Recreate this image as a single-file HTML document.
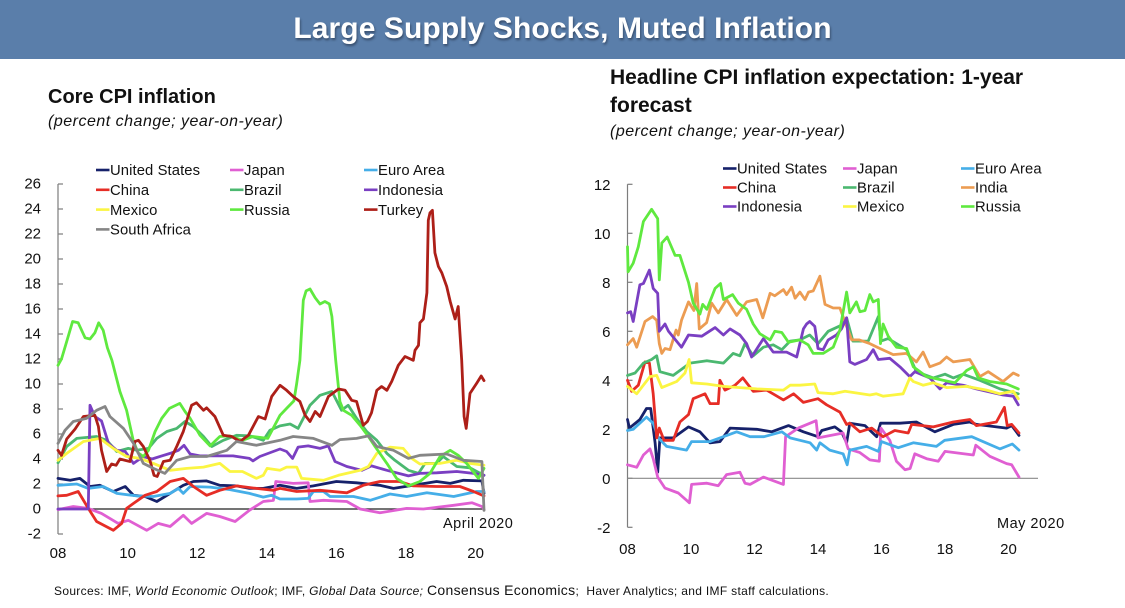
<!DOCTYPE html>
<html lang="en">
<head>
<meta charset="utf-8">
<title>Large Supply Shocks, Muted Inflation</title>
<style>
html,body{margin:0;padding:0;background:#fff;}
#page{position:relative;width:1125px;height:608px;overflow:hidden;background:#fff;font-family:"Liberation Sans",sans-serif;color:#111;}
#banner{position:absolute;left:0;top:0;width:1125px;height:59px;background:#5a7eaa;}
#banner-title{position:absolute;left:0;top:9px;width:1125px;text-align:center;font-weight:bold;font-size:30px;line-height:40px;color:#fff;text-shadow:1px 2px 2px rgba(30,40,60,.55);letter-spacing:.09px;}
.t{position:absolute;white-space:nowrap;}
.bold{font-weight:bold;font-size:20px;line-height:28px;}
.bold.big{font-size:21px;}
.sub{font-style:italic;font-size:16px;line-height:20px;letter-spacing:.5px;}
#sources{position:absolute;left:54px;top:582px;font-size:12px;line-height:16px;white-space:nowrap;color:#111;letter-spacing:.32px;}
svg{position:absolute;left:0;top:0;}
svg text{font-family:"Liberation Sans",sans-serif;fill:#111;}
</style>
</head>
<body>
<div id="page">
  <div id="banner">
    <div id="banner-title">Large Supply Shocks, Muted Inflation</div>
  </div>
  <div class="t bold" style="left:48px;top:83px;">Core CPI inflation</div>
  <div class="t sub" style="left:48px;top:112px;">(percent change; year-on-year)</div>
  <div class="t bold big" style="left:610px;top:64px;">Headline CPI inflation expectation: 1-year</div>
  <div class="t bold big" style="left:610px;top:92px;">forecast</div>
  <div class="t sub" style="left:610px;top:122px;">(percent change; year-on-year)</div>
  <svg id="chart" width="1125" height="608" viewBox="0 0 1125 608"></svg>
  <div id="sources">Sources: IMF, <i>World Economic Outlook</i>; IMF, <i>Global Data Source;</i> <span style="font-size:14px;">Consensus Economics</span>; &nbsp;Haver Analytics; and IMF staff calculations.</div>
</div>
<script>
/* Each series is a list of [year (two-digit), percent] readings from the picture. */
const coreValueTicks = [-2,0,2,4,6,8,10,12,14,16,18,20,22,24,26];
const headlineValueTicks = [-2,0,2,4,6,8,10,12];
const yearTicks = ["08","10","12","14","16","18","20"];

const coreUS = [[8,2.45],[8.35,2.3],[8.63,2.45],[8.92,1.8],[9.2,1.9],[9.59,1.4],[9.93,1.8],[10.17,1.1],[10.5,1],[10.84,.6],[11.22,1.25],[11.6,1.9],[11.89,2.2],[12.27,2.25],[12.65,1.9],[13.13,1.85],[13.5,1.65],[13.9,1.65],[14.38,1.9],[14.86,1.65],[15.34,1.85],[16,2.2],[16.58,2.1],[17.25,1.9],[17.64,1.65],[18.21,1.9],[18.88,2.2],[19.27,2.05],[19.65,2.3],[20.18,2.25],[20.24,1.25]];
const coreJapan = [[8,-.05],[8.44,.2],[8.87,.05],[9.25,-.35],[9.73,-1.15],[10.02,-.9],[10.55,-1.7],[10.88,-1.15],[11.22,-1.4],[11.6,-.5],[11.84,-1.15],[12.27,-.35],[12.65,-.6],[13.09,-1],[13.5,-.1],[13.9,.6],[14.19,.7],[14.26,2.2],[14.76,2.05],[15.19,2.1],[15.24,.6],[15.63,.7],[16.3,.6],[16.68,0],[17.25,-.3],[18.02,.05],[18.5,0],[19.37,.3],[19.9,.5],[20.18,.2],[20.24,-.05]];
const coreEuro = [[8,1.9],[8.54,2],[8.87,1.65],[9.3,1.8],[9.69,1.25],[10.26,1.05],[10.74,1],[11.22,1.25],[11.46,1.65],[11.6,1.25],[11.8,1.8],[12.37,1.75],[12.94,1.55],[13.5,1.25],[13.9,.95],[14.14,1.1],[14.38,.8],[14.86,.8],[15.19,.85],[15.34,1.4],[15.63,1.4],[15.82,1],[16.49,1],[16.97,.7],[17.54,1.2],[18.02,1],[18.6,1.3],[19.37,1],[20.03,1.4],[20.24,1.4]];
const coreChina = [[8,1.05],[8.25,1.1],[8.58,1.4],[8.87,.05],[9.11,-1],[9.59,-1.7],[9.83,-1.15],[9.97,.05],[10.17,.45],[10.5,1.1],[10.84,1.4],[11.22,2.2],[11.6,2.45],[11.89,1.8],[12.27,1.1],[12.65,1.5],[13.13,1.85],[13.7,1.65],[14.19,1.5],[14.38,1.65],[14.86,1.4],[15.53,1.5],[16.3,1.3],[16.77,1.9],[17.25,2.2],[17.82,2.2],[18.21,1.85],[18.88,1.8],[19.55,1.8],[19.94,1.4],[20.24,1.05]];
const coreBrazil = [[8,3.7],[8.25,5],[8.54,5.65],[9.11,5.8],[9.4,5.5],[9.69,4.6],[10.02,4.85],[10.26,4.7],[10.6,4.85],[10.84,5.65],[11.13,6.2],[11.41,6.45],[11.65,7],[11.89,6.6],[12.18,5.8],[12.42,5],[12.75,5.5],[13.13,5.9],[13.52,5.85],[13.9,5.5],[14.09,6.3],[14.38,6.65],[14.67,6.8],[14.9,6.45],[15.05,7.25],[15.24,8.3],[15.53,9.1],[15.87,9.4],[16.15,7.9],[16.34,8.3],[16.58,7.25],[16.87,6.2],[17.16,5.5],[17.45,4.45],[17.68,3.9],[18.07,3.1],[18.36,2.85],[18.55,3.65],[18.88,3.65],[19.07,4.2],[19.46,3.4],[19.84,3.3],[20.24,2.7]];
const coreIndonesia = [[8,0],[8.87,0],[8.92,8.3],[9.06,7.4],[9.25,7.05],[9.45,5.25],[9.69,4.7],[9.93,4.6],[10.17,3.65],[10.45,4.2],[10.7,4],[10.98,4.25],[11.22,4.45],[11.46,4.7],[11.62,5.1],[11.8,4.4],[12.08,4.25],[12.65,4.25],[13.03,4.25],[13.5,4.05],[13.6,3.85],[13.8,4.2],[14.38,4.8],[14.57,4.6],[14.74,4.05],[14.9,4.95],[15.19,5.05],[15.53,4.85],[15.77,5.05],[15.96,3.8],[16.3,3.4],[16.73,3.1],[17.01,3.45],[17.45,3.1],[18.07,2.65],[18.4,2.85],[18.88,2.9],[19.46,3],[19.94,2.85],[20.24,2.7]];
const coreMexico = [[8,3.9],[8.25,4.45],[8.73,5.4],[9.2,5.65],[9.59,4.85],[9.97,4.2],[10.36,4.05],[10.74,3.65],[11.22,3.1],[11.7,3.25],[12.18,3.35],[12.65,3.65],[12.94,3],[13.3,3],[13.7,2.45],[13.9,2.7],[14.01,3.25],[14.38,3.1],[14.57,3.35],[14.86,3.35],[15,2.45],[15.63,2.3],[16.06,2.7],[16.68,3.1],[16.92,3.4],[17.16,4.45],[17.54,4.95],[17.92,4.85],[18.16,4.05],[18.4,3.6],[18.98,3.65],[19.46,3.9],[19.84,3.65],[20.24,3.5]];
const coreRussia = [[8,11.5],[8.1,12],[8.25,13.4],[8.42,15],[8.58,14.9],[8.78,13.7],[8.92,13.6],[9.06,14.1],[9.17,14.9],[9.3,14.3],[9.42,12.9],[9.55,11.9],[9.78,9.4],[9.97,7.9],[10.16,5.5],[10.3,4.5],[10.45,4.2],[10.6,4.7],[10.79,6.2],[10.98,7.25],[11.2,8.05],[11.5,8.45],[11.65,7.8],[11.8,7.25],[12.08,5.9],[12.37,5.05],[12.65,5.8],[12.94,5.85],[13.3,5.5],[13.6,5.8],[14.03,5.65],[14.38,7.5],[14.57,8.05],[14.78,8.65],[14.86,10.05],[14.95,11.9],[15.05,16.7],[15.13,17.45],[15.24,17.6],[15.39,16.9],[15.53,16.4],[15.67,16.6],[15.8,16.4],[15.87,15.4],[15.98,11.9],[16.1,8.6],[16.2,7.9],[16.44,7.5],[16.68,6.7],[16.92,5.8],[17.11,5],[17.45,3.65],[17.73,2.45],[18.07,1.85],[18.4,2.2],[18.69,2.85],[18.98,4.2],[19.27,4.7],[19.5,4.3],[19.74,3.65],[20.08,2.45],[20.24,3.25]];
const coreTurkey = [[8,4.7],[8.1,4.3],[8.25,5.6],[8.49,6.4],[8.73,7.4],[9.06,7.5],[9.16,6.6],[9.25,4.7],[9.4,3],[9.54,3.6],[9.67,3.5],[9.78,4],[10.07,3.8],[10.21,5.4],[10.31,5.5],[10.45,5],[10.64,3.9],[10.76,2.7],[10.85,2.6],[11.03,3.8],[11.22,3.9],[11.41,5],[11.6,6.2],[11.84,8.3],[11.98,8.5],[12.18,7.9],[12.27,8.1],[12.51,7.4],[12.75,5.9],[12.99,5.8],[13.23,5.4],[13.47,5.9],[13.76,7.4],[13.95,7.2],[14.14,9],[14.38,9.9],[14.57,9.5],[14.76,9],[14.95,8.6],[15.1,7.5],[15.24,7],[15.39,7.8],[15.53,7.4],[15.77,9],[16.06,9.6],[16.25,9.5],[16.44,8.7],[16.58,8.6],[16.77,6.7],[16.89,7],[17.01,7.7],[17.16,9.5],[17.3,9.8],[17.45,9.5],[17.59,10.2],[17.78,11.5],[17.97,12.2],[18.21,11.9],[18.26,12.7],[18.36,13.1],[18.4,14.9],[18.5,15.2],[18.6,17.3],[18.64,23.1],[18.69,23.7],[18.76,23.9],[18.83,20.5],[18.93,19.4],[19.03,18.9],[19.17,17.8],[19.27,16.6],[19.41,15.2],[19.5,16.2],[19.6,11.9],[19.67,7.4],[19.73,6.45],[19.84,9.25],[20.03,10.05],[20.16,10.64],[20.24,10.27]];
const coreSouthAfrica = [[8,5.25],[8.2,6.3],[8.44,7],[8.82,7.25],[9.11,7.9],[9.35,8.2],[9.49,7.4],[9.88,6.45],[10.17,5.25],[10.45,3.65],[10.74,3.25],[11.07,2.85],[11.41,3.9],[11.8,4.2],[12.27,4.2],[12.85,4.7],[13.13,5.4],[13.7,5.1],[14.38,5.5],[14.76,5.8],[15.34,5.65],[15.87,5.1],[16.1,5.55],[16.58,5.65],[16.92,5.85],[17.16,5],[17.64,4.7],[18.07,4.05],[18.4,4.3],[19.17,4.4],[19.65,3.9],[20.18,3.8],[20.24,-.1]];

const headUS = [[8,2.4],[8.06,2.05],[8.39,2.4],[8.6,2.85],[8.73,2.85],[8.87,1.45],[8.95,.25],[9.02,1.65],[9.44,1.65],[9.92,2.1],[10.28,1.9],[10.6,1.45],[10.91,1.5],[11.23,2.05],[12.07,2],[12.54,1.9],[13.07,2.15],[13.54,1.9],[14,1.7],[14.12,1.95],[14.53,2.1],[14.74,1.9],[14.9,1.45],[15,2.25],[15.48,2.15],[15.85,1.7],[15.97,2.25],[16.58,2.25],[17.1,2.3],[17.68,1.9],[18.26,2.2],[18.78,2.3],[18.99,2.2],[19.94,2.05],[20.1,2.15],[20.33,1.75]];
const headJapan = [[8,.55],[8.29,.45],[8.5,.95],[8.71,1.2],[8.81,.8],[8.95,.05],[9.18,-.4],[9.6,-.6],[9.95,-1],[10.02,-.25],[10.5,-.2],[10.86,-.3],[11.12,.15],[11.54,.25],[11.7,-.2],[11.86,-.25],[12.28,.05],[12.91,-.25],[12.98,1.7],[13.38,2.05],[13.94,2.35],[14,1.65],[14.79,1.85],[14.95,1.2],[15.32,1.05],[15.63,.75],[15.93,.7],[15.98,2.05],[16.26,1.55],[16.47,.7],[16.74,.35],[16.9,.4],[17.05,1],[17.42,.8],[17.79,.7],[18,1.1],[18.89,.95],[18.97,1.35],[19.41,.9],[19.94,.6],[20.1,.55],[20.33,.05]];
const headEuro = [[8,1.95],[8.18,2],[8.6,2.5],[8.81,2.25],[8.97,1.65],[9.23,1.3],[9.86,1.15],[10.02,1.5],[10.6,1.5],[11.44,1.9],[11.86,1.7],[12.3,1.7],[12.86,1.9],[13.12,1.65],[13.75,1.45],[13.96,1.15],[14.06,1.45],[14.37,1.15],[14.79,1],[14.92,.55],[15,1.15],[15.53,1.3],[15.9,1.1],[16,1.5],[16.53,1.25],[17,1.45],[17.73,1.3],[17.99,1.55],[18.84,1.7],[19.73,1.2],[20.12,1.4],[20.33,1.15]];
const headChina = [[8,4],[8.13,3.55],[8.34,3.8],[8.55,4.75],[8.69,4.7],[8.81,3.45],[8.92,1.65],[9,2.05],[9.15,1.55],[9.44,1.55],[9.65,2.3],[9.92,2.6],[10.07,3.25],[10.44,3.45],[10.6,3.05],[10.86,3.05],[10.91,4],[11.07,3.6],[11.39,3.8],[11.63,4.1],[11.96,3.55],[12.38,3.6],[12.91,3.2],[13.23,3.45],[13.54,3.1],[14,3.25],[14.27,3],[14.69,2.7],[14.9,2.2],[15,2.25],[15.32,1.9],[15.69,2.05],[16.05,1.7],[16.42,1.95],[16.84,1.85],[16.95,2.2],[17.63,2.1],[18.26,2.3],[18.78,2.4],[18.99,2.15],[19.62,2.3],[19.87,2.9],[19.96,2.15],[20.1,2.2],[20.33,1.85]];
const headBrazil = [[8,4.2],[8.24,4.3],[8.5,4.7],[8.76,4.85],[8.92,5],[9.02,4.35],[9.44,4.2],[9.97,4.7],[10.5,4.8],[11.02,4.7],[11.33,5.1],[11.54,5],[11.7,5.5],[11.96,5],[12.28,5.35],[12.59,5.45],[12.86,5.25],[13.12,5.6],[13.43,5.65],[13.74,5.85],[14,5.5],[14.32,6],[14.74,6.25],[14.9,6.55],[15.1,5.6],[15.58,5.6],[15.9,6.6],[15.98,5.6],[16.21,5.7],[16.79,5.25],[17.1,4.35],[17.63,4.1],[18,4.25],[18.26,4.1],[18.57,4.25],[19.1,4],[19.73,3.65],[20.31,3.45]];
const headIndia = [[8,5.45],[8.18,5.7],[8.29,5.35],[8.55,6.4],[8.79,6.6],[8.92,6.45],[9,5.5],[9.08,5.1],[9.18,5.3],[9.34,5.25],[9.53,6.05],[9.6,5.85],[9.7,6.45],[9.92,7.2],[10.09,6.85],[10.18,7.95],[10.26,6.1],[10.49,6.35],[10.65,7.15],[10.86,6.75],[11.12,7.3],[11.44,6.65],[11.75,7.2],[12.07,7.3],[12.26,6.55],[12.49,7.55],[12.64,7.45],[12.91,7.7],[13.01,7.5],[13.17,7.8],[13.28,7.35],[13.43,7.6],[13.59,7.3],[13.7,7.6],[13.85,7.65],[14.06,8.25],[14.22,7.1],[14.48,6.95],[14.69,6.95],[14.9,6.2],[15.06,5.65],[15.3,5.65],[15.63,5.5],[15.95,5.3],[16.37,5.05],[16.79,5.1],[17.1,4.75],[17.31,5.15],[17.52,4.55],[17.84,4.7],[18.05,4.95],[18.26,4.75],[18.78,4.85],[19.1,4.15],[19.36,4.35],[19.83,3.95],[20.15,4.3],[20.31,4.2]];
const headIndonesia = [[8,6.75],[8.1,6.8],[8.18,6.4],[8.39,7.9],[8.5,7.95],[8.69,8.5],[8.81,7.75],[8.95,7.55],[9,6],[9.18,6.3],[9.29,6],[9.7,5.35],[9.92,5.85],[10.34,5.8],[10.76,6.15],[11.02,5.85],[11.23,6.1],[11.54,5.85],[11.75,5.5],[11.91,4.95],[12.28,5.7],[12.59,5.15],[13.01,5.15],[13.33,4.95],[13.54,6.1],[13.64,6.3],[13.74,6.4],[13.9,6.2],[14,5.3],[14.16,5.25],[14.32,5.65],[14.58,5.85],[14.74,6.1],[14.9,6.55],[15,4.75],[15.16,4.65],[15.53,4.85],[15.74,5.25],[15.9,4.85],[16.26,4.9],[16.58,4.55],[16.89,4.15],[17.05,4.35],[17.52,4.1],[17.84,3.65],[18.05,3.9],[18.57,3.8],[18.99,3.65],[19.31,3.55],[19.83,3.4],[20.15,3.35],[20.31,3]];
const headMexico = [[8,3.75],[8.29,3.45],[8.71,4.15],[8.92,4.2],[9.08,3.7],[9.55,3.95],[9.81,4.3],[9.94,4.85],[10.02,3.9],[10.5,3.85],[11.02,3.75],[12.07,3.65],[12.91,3.6],[13.12,3.8],[13.43,3.8],[13.9,3.85],[14,3.5],[14.48,3.45],[14.85,3.55],[15.63,3.4],[15.84,3.45],[16.05,3.35],[16.68,3.45],[16.89,4.1],[17,3.95],[17.31,3.8],[17.63,3.9],[18.05,3.7],[18.68,3.75],[19.31,3.6],[19.73,3.45],[20.15,3.55],[20.31,3.25]];
const headRussia = [[8,9.45],[8.02,8.43],[8.18,8.78],[8.34,9.45],[8.5,10.48],[8.76,10.98],[8.95,10.6],[9,8.1],[9.08,9.6],[9.25,9.85],[9.5,9.1],[9.65,9.1],[9.92,8],[10.07,7.15],[10.28,6.7],[10.37,7.1],[10.5,6.9],[10.76,7.75],[10.93,7.95],[11.02,7.3],[11.31,7.5],[11.49,7.15],[11.75,6.9],[11.96,6.3],[12.17,5.9],[12.49,5.65],[12.64,6],[12.86,5.95],[13.07,5.55],[13.43,5.65],[13.69,5.45],[13.85,5.1],[14.16,5.1],[14.48,5.35],[14.69,6.05],[14.9,7.6],[15,6.75],[15.21,7.2],[15.32,6.8],[15.48,6.85],[15.63,7.5],[15.74,7.2],[15.9,7.3],[15.97,5.5],[16.05,6.3],[16.21,5.8],[16.47,5.35],[16.79,5.3],[17,4.55],[17.42,4.15],[17.94,4],[18.31,3.9],[18.68,4.4],[18.89,4.55],[19.05,4.1],[19.41,3.95],[19.94,3.85],[20.31,3.65]];

const coreSeriesNames = ["United States","Japan","Euro Area","China","Brazil","Indonesia","Mexico","Russia","Turkey","South Africa"];
const coreSeriesColors = ["#16216a","#e05fd2","#45aee8","#e62d26","#4bb870","#7a3fc2","#fbf542","#5fe93f","#ad1f18","#868686"];
const coreSeries = [coreUS,coreJapan,coreEuro,coreChina,coreBrazil,coreIndonesia,coreMexico,coreRussia,coreTurkey,coreSouthAfrica];

const headSeriesNames = ["United States","Japan","Euro Area","China","Brazil","India","Indonesia","Mexico","Russia"];
const headSeriesColors = ["#16216a","#e05fd2","#45aee8","#e62d26","#4bb870","#ec9c52","#7a3fc2","#fbf542","#5fe93f"];
const headSeries = [headUS,headJapan,headEuro,headChina,headBrazil,headIndia,headIndonesia,headMexico,headRussia];

const svg = document.getElementById('chart');
const NS = 'http://www.w3.org/2000/svg';
function slug(s){ return s.toLowerCase().replace(/\s+/g,'-'); }
function mk(tag, attrs){
  const el = document.createElementNS(NS, tag);
  for (const k in attrs) el.setAttribute(k, attrs[k]);
  svg.appendChild(el);
  return el;
}
function drawChart(cfg){
  const x = y => cfg.x0 + (y - 8) * cfg.xStep;
  const v = n => cfg.zeroY - n * cfg.yStep;
  /* y axis */
  const axis = mk('line',{x1:cfg.x0,x2:cfg.x0,y1:v(cfg.vTicks[cfg.vTicks.length-1]),y2:v(cfg.vTicks[0]),stroke:'#7d7d7d','stroke-width':1.2});
  
  
  cfg.vTicks.forEach(t => {
    const tick = mk('line',{x1:cfg.x0,x2:cfg.x0+5,y1:v(t),y2:v(t),stroke:'#7d7d7d','stroke-width':1.2});
    
    
    const lab = mk('text',{x:cfg.x0-cfg.labelGap,y:v(t)+cfg.labelDy,'text-anchor':'end','font-size':15});
    lab.textContent = String(t);
    
    
  });
  /* zero line */
  const zero = mk('line',{x1:cfg.x0,x2:cfg.zeroEnd,y1:v(0),y2:v(0),stroke:cfg.zeroColor,'stroke-width':1.2});
  
  
  /* x labels */
  yearTicks.forEach(t => {
    const lab = mk('text',{x:x(+t),y:cfg.xLabelY,'text-anchor':'middle','font-size':15});
    lab.textContent = t;
    
    
  });
  /* series */
  cfg.series.forEach((s,i) => {
    const line = mk('polyline',{points:s.map(p => x(p[0]).toFixed(1)+','+v(p[1]).toFixed(1)).join(' '),fill:'none',stroke:cfg.colors[i],'stroke-width':2.8,'stroke-linejoin':'round','stroke-linecap':'round'});
    
    
  });
  /* legend */
  cfg.names.forEach((n,i) => {
    const col = i % 3, row = Math.floor(i / 3);
    const lx = cfg.legX[col], ly = cfg.legY + row * cfg.legRow;
    const sw = mk('line',{x1:lx,x2:lx+13.5,y1:ly,y2:ly,stroke:cfg.colors[i],'stroke-width':2.6});
    
    
    const tx = mk('text',{x:lx+14,y:ly+5.2,'font-size':14.8,'letter-spacing':.1});
    tx.textContent = n;
    
    
  });
  /* date note */
  const note = mk('text',{x:cfg.noteX,y:cfg.noteY,'font-size':14.5,'letter-spacing':.5});
  note.textContent = cfg.note;
  
  
}
drawChart({id:'core',x0:58,xStep:34.8,zeroY:509,yStep:12.5,vTicks:coreValueTicks,labelGap:17,labelDy:4.5,zeroEnd:484,zeroColor:'#222',xLabelY:558,series:coreSeries,names:coreSeriesNames,colors:coreSeriesColors,legX:[96,230,364],legY:170,legRow:19.8,note:'April 2020',noteX:443,noteY:528});
drawChart({id:'headline',x0:627.5,xStep:31.75,zeroY:478.3,yStep:24.5,vTicks:headlineValueTicks,labelGap:17,labelDy:5.5,zeroEnd:1038,zeroColor:'#8a8a8a',xLabelY:554,series:headSeries,names:headSeriesNames,colors:headSeriesColors,legX:[723,843,961],legY:168.5,legRow:19,note:'May 2020',noteX:997,noteY:528});
</script>
</body>
</html>
